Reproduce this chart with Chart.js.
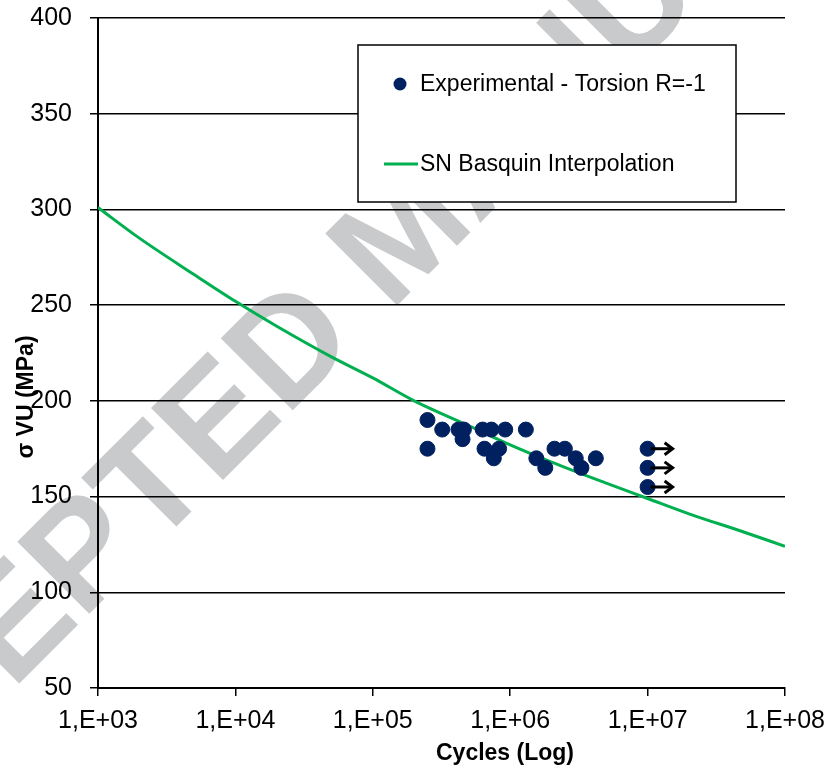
<!DOCTYPE html>
<html>
<head>
<meta charset="utf-8">
<script src="https://cdn.jsdelivr.net/npm/chart.js@4.4.1/dist/chart.umd.min.js"></script>
<style>
  body { margin: 0; background: #fff; }
  #wrap { width: 827px; height: 767px; }
</style>
</head>
<body>
<div id="wrap"><canvas id="chart" width="827" height="767"></canvas></div>
<script>
// Experimental points (cycles to failure, stress amplitude in MPa)
const expCycles = [2.5e5, 2.5e5, 3.2e5, 4.2e5, 4.6e5, 4.5e5, 6.3e5, 7.3e5, 9.2e5, 1.3e6,
                   6.5e5, 8.3e5, 7.6e5, 1.55e6, 1.8e6, 2.1e6, 2.5e6, 3.0e6, 3.3e6, 4.2e6];
const expStress = [190, 175, 185, 185, 185, 180, 185, 185, 185, 185,
                   175, 175, 170, 170, 165, 175, 175, 170, 165, 170];

// Run-outs (specimens that did not break), drawn with an arrow
const runoutCycles = [1e7, 1e7, 1e7];
const runoutStress = [175, 165, 155];

// Basquin curve
const basquinCycles = [1e3, 2e3, 5e3, 1e4, 2e4, 5e4, 1e5, 2e5, 5e5, 1e6, 2e6, 5e6, 1e7, 2e7, 5e7, 1e8];
const basquinStress = [301, 285, 266, 252, 239, 223, 212, 200, 187, 177, 168, 157, 149, 141, 131.5, 124];

// Axis ticks
const xTicks = [1e3, 1e4, 1e5, 1e6, 1e7, 1e8];
const yMin = 50;
const yMax = 400;
const yStep = 50;

// Texts
const seriesNames = ['Experimental - Torsion R=-1', 'SN Basquin Interpolation'];
const xTitle = 'Cycles (Log)';
const yTitle = 'σ VU (MPa)';
const watermark = 'ACCEPTED MANUSCRIPT';

const family = '"Liberation Sans", Arial, Helvetica, sans-serif';

/**
 * Excel style label for a power of ten: 1,E+05
 * @param {number} v tick value
 */
function fmtCycles(v) {
    var e = Math.round(Math.log10(v));
    return '1,E+' + String(e).padStart(2, '0');
}

/**
 * Fix the axis thickness and drop the label overhang,
 * so the plot area is set by the layout padding only
 */
function fixAxis(size) {
    return (s) => {
        if (s.isHorizontal()) {
            s.height = size;
        } else {
            s.width = size;
        }
        s.paddingTop = 0;
        s.paddingBottom = 0;
        s.paddingLeft = 0;
        s.paddingRight = 0;
    };
}

// Build the point lists
var expPoints = [];
for (var i = 0; i < expCycles.length; ++i) {
    expPoints.push({ x: expCycles[i], y: expStress[i] });
}
for (var i = 0; i < runoutCycles.length; ++i) {
    expPoints.push({ x: runoutCycles[i], y: runoutStress[i] });
}
var curvePoints = [];
for (var i = 0; i < basquinCycles.length; ++i) {
    curvePoints.push({ x: basquinCycles[i], y: basquinStress[i] });
}

// White background plus the grey diagonal watermark, under everything
const watermarkPlugin = {
    id: 'watermark',
    beforeDraw(chart) {
        const ctx = chart.ctx;
        ctx.save();
        ctx.fillStyle = '#fff';
        ctx.fillRect(0, 0, chart.width, chart.height);
        ctx.font = 'bold 148px ' + family;
        ctx.fillStyle = '#c9cacc';
        ctx.textBaseline = 'alphabetic';
        ctx.translate(286, 342);            // centre of the "D"
        ctx.rotate(-45 * Math.PI / 180);
        const before = ctx.measureText('ACCEPTE').width + ctx.measureText('D').width / 2;
        ctx.fillText(watermark, -before, 148 * 0.716 / 2);
        ctx.restore();
    }
};

// Arrows on the run-out points
const runoutPlugin = {
    id: 'runouts',
    afterDatasetsDraw(chart) {
        const ctx = chart.ctx;
        const xs = chart.scales.x, ys = chart.scales.y;
        ctx.save();
        ctx.strokeStyle = '#000';
        ctx.lineWidth = 3;
        ctx.lineCap = 'butt';
        for (var i = 0; i < runoutCycles.length; ++i) {
            const px = xs.getPixelForValue(runoutCycles[i]);
            const py = ys.getPixelForValue(runoutStress[i]);
            ctx.beginPath();
            ctx.moveTo(px + 3, py);
            ctx.lineTo(px + 24, py);
            ctx.stroke();
            ctx.beginPath();
            ctx.moveTo(px + 17, py - 6);
            ctx.lineTo(px + 25, py);
            ctx.lineTo(px + 17, py + 6);
            ctx.stroke();
        }
        ctx.restore();
    }
};

// Boxed legend and the two axis titles
const legendPlugin = {
    id: 'boxLegend',
    afterDraw(chart) {
        const ctx = chart.ctx;
        const sets = chart.data.datasets;
        ctx.save();
        ctx.fillStyle = '#fff';
        ctx.fillRect(358, 45, 378, 157);
        ctx.strokeStyle = '#000';
        ctx.lineWidth = 1.5;
        ctx.strokeRect(358, 45, 378, 157);

        ctx.font = '23px ' + family;
        ctx.textBaseline = 'middle';
        ctx.textAlign = 'left';

        ctx.beginPath();
        ctx.arc(400, 84, 6.5, 0, 2 * Math.PI);
        ctx.fillStyle = sets[0].backgroundColor;
        ctx.fill();
        ctx.fillStyle = '#000';
        ctx.fillText(sets[0].label, 420, 85);

        ctx.strokeStyle = sets[1].borderColor;
        ctx.lineWidth = 3;
        ctx.beginPath();
        ctx.moveTo(384, 164);
        ctx.lineTo(418, 164);
        ctx.stroke();
        ctx.fillText(sets[1].label, 420, 165);

        // axis titles
        ctx.font = 'bold 23px ' + family;
        ctx.textAlign = 'center';
        ctx.fillText(xTitle, 505, 754);
        ctx.translate(27, 397);
        ctx.rotate(-Math.PI / 2);
        ctx.fillText(yTitle, 0, 0);
        ctx.restore();
    }
};

new Chart(document.getElementById('chart'), {
    type: 'scatter',
    data: {
        datasets: [{
            label: seriesNames[0],
            data: expPoints,
            backgroundColor: '#002060',
            borderColor: '#002060',
            pointRadius: 7.5,
            pointHoverRadius: 7.5,
            order: 1
        }, {
            label: seriesNames[1],
            data: curvePoints,
            showLine: true,
            borderColor: '#00b050',
            backgroundColor: '#00b050',
            borderWidth: 3,
            pointRadius: 0,
            cubicInterpolationMode: 'monotone',
            order: 2
        }]
    },
    options: {
        responsive: false,
        animation: false,
        layout: { padding: { top: 18, right: 42, bottom: 0, left: 0 } },
        plugins: {
            legend: { display: false },
            tooltip: { enabled: false }
        },
        scales: {
            x: {
                type: 'logarithmic',
                min: xTicks[0],
                max: xTicks[xTicks.length - 1],
                afterBuildTicks: (s) => { s.ticks = xTicks.map(v => ({ value: v })); },
                afterFit: fixAxis(79),
                grid: { drawOnChartArea: false, drawTicks: true, tickLength: 8, color: '#000', lineWidth: 1.5 },
                border: { color: '#000', width: 2 },
                ticks: {
                    callback: fmtCycles,
                    autoSkip: false,
                    maxRotation: 0,
                    padding: 10,
                    color: '#000',
                    font: { family: family, size: 25 }
                }
            },
            y: {
                min: yMin,
                max: yMax,
                afterFit: fixAxis(98),
                grid: { color: '#000', lineWidth: 1.5, tickLength: 8 },
                border: { color: '#000', width: 2 },
                ticks: {
                    stepSize: yStep,
                    padding: 18,
                    color: '#000',
                    font: { family: family, size: 25 }
                }
            }
        }
    },
    plugins: [watermarkPlugin, runoutPlugin, legendPlugin]
});
</script>
</body>
</html>
